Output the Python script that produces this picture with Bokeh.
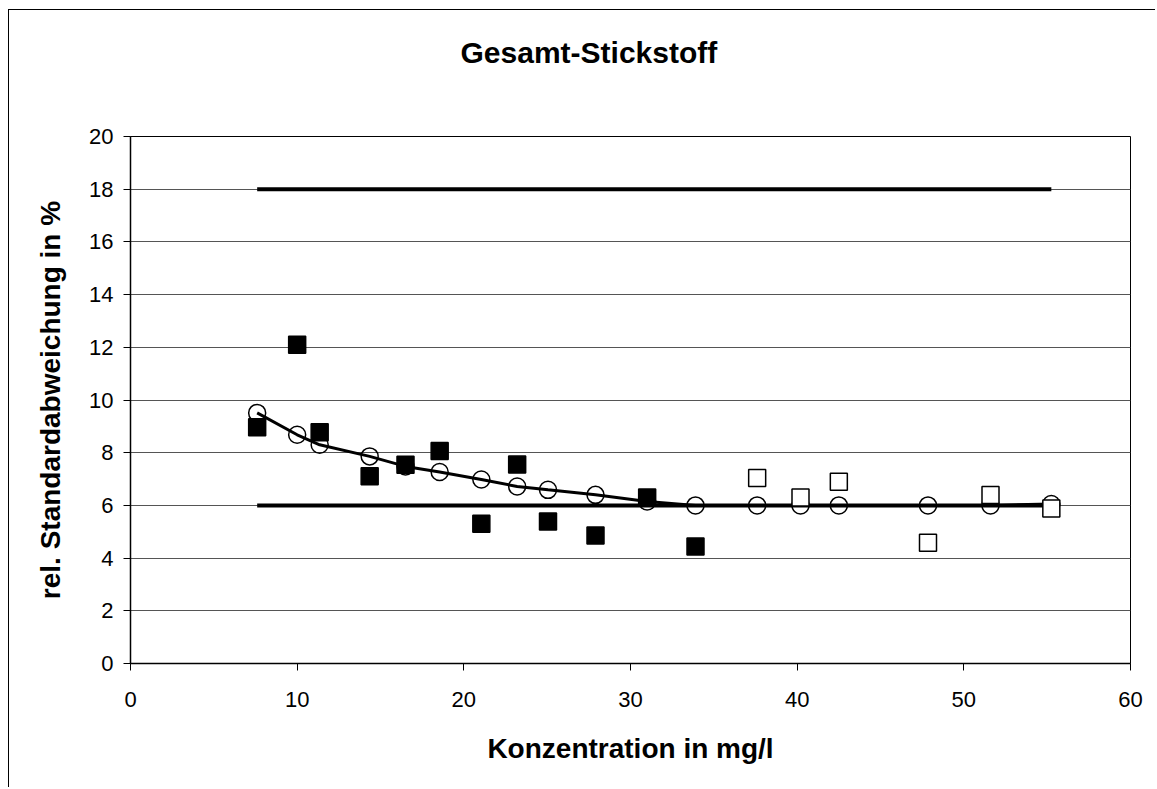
from bokeh.plotting import figure
from bokeh.models import Range1d, SingleIntervalTicker, Title
from bokeh.embed import file_html
from bokeh.resources import INLINE

# ---- data ----
conc = [7.6, 10.0, 11.35, 14.35, 16.5, 18.55, 21.05, 23.2, 25.05, 27.9,
        31.0, 33.9, 37.6, 40.2, 42.5, 47.85, 51.6, 55.25]
lab_filled = [8.97, 12.1, 8.78, 7.11, 7.54, 8.06, 5.30, 7.55, 5.39, 4.86,
              6.30, 4.44]
lab_open = [7.04, 6.30, 6.90, 4.58, 6.39, 5.88]
fit_rsd = [9.51, 8.68, 8.30, 7.86, 7.48, 7.27, 6.98, 6.72, 6.59, 6.40,
           6.15, 6.0, 6.0, 6.0, 6.0, 6.0, 6.0, 6.05]
limit_x = [7.6, 55.25]
upper_limit = [18.0, 18.0]
lower_limit = [6.0, 6.0]
title_text = "Gesamt-Stickstoff"

n_filled = len(lab_filled)
x_filled = conc[:n_filled]
x_open = conc[n_filled:]

FONT = "Liberation Sans"

p = figure(
    frame_width=1000, frame_height=527,
    min_border_left=121, min_border_right=25,
    min_border_top=126, min_border_bottom=124,
    x_range=Range1d(0, 60), y_range=Range1d(0, 20),
    output_backend="svg", toolbar_location=None,
)
p.styles = {"margin-left": "8px", "margin-top": "9px",
            "border-left": "1px solid #000000", "border-top": "1px solid #000000"}

# chart title, centred over the whole chart area (which extends past the plot frame)
p.title = Title(text=title_text, align="left", offset=330,
                vertical_align="bottom", standoff=10,
                text_font=FONT, text_font_size="30px",
                text_font_style="bold", text_color="black")
# invisible spacer between title and plot frame
p.add_layout(Title(text=" ", standoff=50, text_font_size="10px",
                   text_color="white"), "above")

p.background_fill_color = "white"
p.border_fill_color = "white"
p.outline_line_color = "black"
p.outline_line_width = 1

# axes
p.xaxis.ticker = SingleIntervalTicker(interval=10, num_minor_ticks=0)
p.yaxis.ticker = SingleIntervalTicker(interval=2, num_minor_ticks=0)
for ax in (p.xaxis, p.yaxis):
    ax.axis_line_color = "black"
    ax.axis_line_width = 1.5
    ax.major_tick_line_color = "black"
    ax.major_tick_line_width = 1
    ax.major_tick_out = 7
    ax.major_tick_in = 0
    ax.minor_tick_line_color = None
    ax.major_label_text_font = FONT
    ax.major_label_text_font_size = "22px"
    ax.major_label_text_color = "black"
    ax.axis_label_text_font = FONT
    ax.axis_label_text_font_size = "28px"
    ax.axis_label_text_font_style = "bold"
    ax.axis_label_text_color = "black"

p.xaxis.axis_label = "Konzentration in mg/l"
p.yaxis.axis_label = "rel. Standardabweichung in %"
p.xaxis.major_label_standoff = 21
p.yaxis.major_label_standoff = 10
p.xaxis.axis_label_standoff = 23
p.yaxis.axis_label_standoff = 20

p.xgrid.grid_line_color = None
p.ygrid.grid_line_color = "#555555"
p.ygrid.grid_line_width = 1

# limit lines
p.line(limit_x, upper_limit, line_color="black", line_width=4)
p.line(limit_x, lower_limit, line_color="black", line_width=4)

# fitted curve with circle markers
p.line(conc, fit_rsd, line_color="black", line_width=3)
p.scatter(conc, fit_rsd, marker="circle", size=17, fill_color=None,
          line_color="black", line_width=1.5)

# laboratory values
p.scatter(x_filled, lab_filled, marker="square", size=17,
          fill_color="black", line_color="black", line_width=1.5)
p.scatter(x_open, lab_open, marker="square", size=17,
          fill_color="white", line_color="black", line_width=1.5)

open("out.html", "w").write(file_html(p, INLINE))
